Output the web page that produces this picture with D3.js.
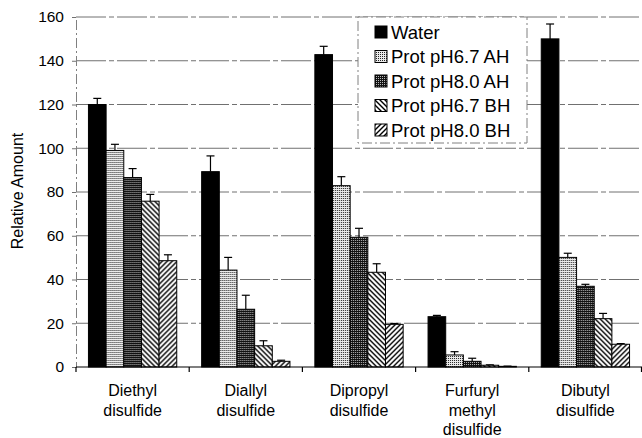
<!DOCTYPE html>
<html>
<head>
<meta charset="utf-8">
<script src="https://cdn.jsdelivr.net/npm/d3@7"></script>
<style>
  body { margin: 0; background: #fff; }
  svg text { font-family: "Liberation Sans", Arial, sans-serif; fill: #000; }
</style>
</head>
<body>
<svg id="chart" width="642" height="438"></svg>
<script>
const categories = [
    ['Diethyl', 'disulfide'],
    ['Diallyl', 'disulfide'],
    ['Dipropyl', 'disulfide'],
    ['Furfuryl', 'methyl', 'disulfide'],
    ['Dibutyl', 'disulfide']
];
const series = ['Water', 'Prot pH6.7 AH', 'Prot pH8.0 AH', 'Prot pH6.7 BH', 'Prot pH8.0 BH'];

const water = [120, 89.3, 142.8, 23.0, 150];
const ah67 = [99, 44.3, 82.9, 5.5, 50.1];
const ah80 = [86.6, 26.4, 59.3, 2.6, 36.9];
const bh67 = [75.8, 9.7, 43.3, 0.8, 22.1];
const bh80 = [48.6, 2.6, 19.5, 0.3, 10.4];

const waterErr = [2.8, 7.2, 3.8, 0.6, 6.8];
const ah67Err = [2.8, 5.8, 4.1, 1.5, 1.9];
const ah80Err = [4.1, 6.4, 4.1, 1.4, 0.9];
const bh67Err = [3.1, 2.3, 3.9, 0.2, 2.4];
const bh80Err = [2.7, 0.5, 0.4, 0.1, 0.3];

const yTicks = [0, 20, 40, 60, 80, 100, 120, 140, 160];

const values = [water, ah67, ah80, bh67, bh80];
const errors = [waterErr, ah67Err, ah80Err, bh67Err, bh80Err];
const fills = ['#000', 'url(#pLight)', 'url(#pDark)', 'url(#pBack)', 'url(#pFwd)'];

const svg = d3.select('#chart');
const plotLeft = 76, plotRight = 642, plotTop = 17, plotBottom = 367;

const catNames = categories.map(c => c.join(' '));
const x = d3.scaleBand().domain(catNames).range([plotLeft, plotRight])
    .paddingInner(0.22).paddingOuter(0.11);
const xs = d3.scaleBand().domain(series).range([0, x.bandwidth()]);
const y = d3.scaleLinear().domain([0, 160]).range([plotBottom, plotTop]);

// patterns
const defs = svg.append('defs');
const light = defs.append('pattern').attr('id', 'pLight')
    .attr('patternUnits', 'userSpaceOnUse').attr('width', 2).attr('height', 2);
light.append('rect').attr('width', 2).attr('height', 2).attr('fill', '#eaeaea');
light.append('rect').attr('width', 1).attr('height', 1).attr('fill', '#222');

const dark = defs.append('pattern').attr('id', 'pDark')
    .attr('patternUnits', 'userSpaceOnUse').attr('width', 2).attr('height', 2);
dark.append('rect').attr('width', 2).attr('height', 2).attr('fill', '#111');
dark.append('rect').attr('width', 1).attr('height', 1).attr('fill', '#bbb');

function hatch(id, d) {
    const p = defs.append('pattern').attr('id', id)
        .attr('patternUnits', 'userSpaceOnUse').attr('width', 5).attr('height', 5);
    p.append('rect').attr('width', 5).attr('height', 5).attr('fill', '#fff');
    p.append('path').attr('d', d).attr('stroke', '#000').attr('stroke-width', 1.4);
}
hatch('pBack', 'M-1,-1L6,6M-1,4L1,6M4,-1L6,1');
hatch('pFwd', 'M-1,6L6,-1M-1,1L1,-1M4,6L6,4');

// gridlines
svg.append('g').selectAll('line')
    .data(yTicks.filter(d => d > 0))
    .enter().append('line')
    .attr('x1', plotLeft).attr('x2', plotRight)
    .attr('y1', d => y(d)).attr('y2', d => y(d))
    .attr('stroke', '#707070').attr('stroke-width', 1)
    .attr('stroke-dasharray', '30,3,5,3');

// y axis
const yAxis = svg.append('g').attr('transform', `translate(${plotLeft},0)`)
    .call(d3.axisLeft(y).tickValues(yTicks).tickSize(4).tickPadding(8));
yAxis.select('.domain').attr('stroke', '#808080').attr('stroke-dasharray', '10,3,2,3');
yAxis.selectAll('.tick line').attr('stroke', '#707070');
yAxis.selectAll('text').style('font-size', '15.5px');

// bars
const groups = svg.append('g').selectAll('g')
    .data(catNames).enter().append('g')
    .attr('transform', d => `translate(${x(d)},0)`);

groups.each(function(c, ci) {
    const g = d3.select(this);
    series.forEach((s, si) => {
        const v = values[si][ci];
        const e = errors[si][ci];
        const bx = xs(s);
        const cx = bx + xs.bandwidth() / 2;
        g.append('line')
            .attr('x1', cx).attr('x2', cx)
            .attr('y1', y(v)).attr('y2', y(v + e))
            .attr('stroke', '#000').attr('stroke-width', 1.2);
        g.append('line')
            .attr('x1', cx - 4).attr('x2', cx + 4)
            .attr('y1', y(v + e)).attr('y2', y(v + e))
            .attr('stroke', '#000').attr('stroke-width', 1.2);
        g.append('rect')
            .attr('x', bx).attr('y', y(v))
            .attr('width', xs.bandwidth()).attr('height', y(0) - y(v))
            .attr('fill', fills[si]).attr('stroke', '#000').attr('stroke-width', 1);
    });
});

// x axis
const xAxis = svg.append('g').attr('transform', `translate(0,${plotBottom})`);
xAxis.append('line').attr('x1', plotLeft).attr('x2', plotRight)
    .attr('stroke', '#000').attr('stroke-width', 1.2);
const bounds = catNames.map(c => x(c) - x.step() * x.paddingInner() / 2).concat([plotRight - 0.5]);
xAxis.selectAll('.bt').data(bounds).enter().append('line')
    .attr('x1', d => d).attr('x2', d => d).attr('y1', 0).attr('y2', 5)
    .attr('stroke', '#000').attr('stroke-width', 1.2);

const labels = xAxis.selectAll('.cl').data(categories).enter().append('text')
    .attr('text-anchor', 'middle')
    .attr('transform', (d, i) => `translate(${x(catNames[i]) + x.bandwidth() / 2},29)`)
    .style('font-size', '16px');
labels.selectAll('tspan').data(d => d).enter().append('tspan')
    .attr('x', 0).attr('dy', (d, i) => i === 0 ? 0 : 19.5).text(d => d);

// y label
svg.append('text')
    .attr('transform', 'translate(23,191) rotate(-90)')
    .attr('text-anchor', 'middle')
    .style('font-size', '16px')
    .text('Relative Amount');

// legend
const legend = svg.append('g');
legend.append('rect')
    .attr('x', 358).attr('y', 17).attr('width', 169).attr('height', 126)
    .attr('fill', '#fff').attr('stroke', '#808080').attr('stroke-dasharray', '10,3,2,3');
series.forEach((s, i) => {
    const ly = 32 + i * 24.5;
    legend.append('rect')
        .attr('x', 375).attr('y', ly - 6).attr('width', 12).attr('height', 12)
        .attr('fill', fills[i]).attr('stroke', '#000').attr('stroke-width', 1);
    legend.append('text')
        .attr('x', 391).attr('y', ly + 6.5)
        .style('font-size', '18.5px')
        .text(s);
});
</script>
</body>
</html>
